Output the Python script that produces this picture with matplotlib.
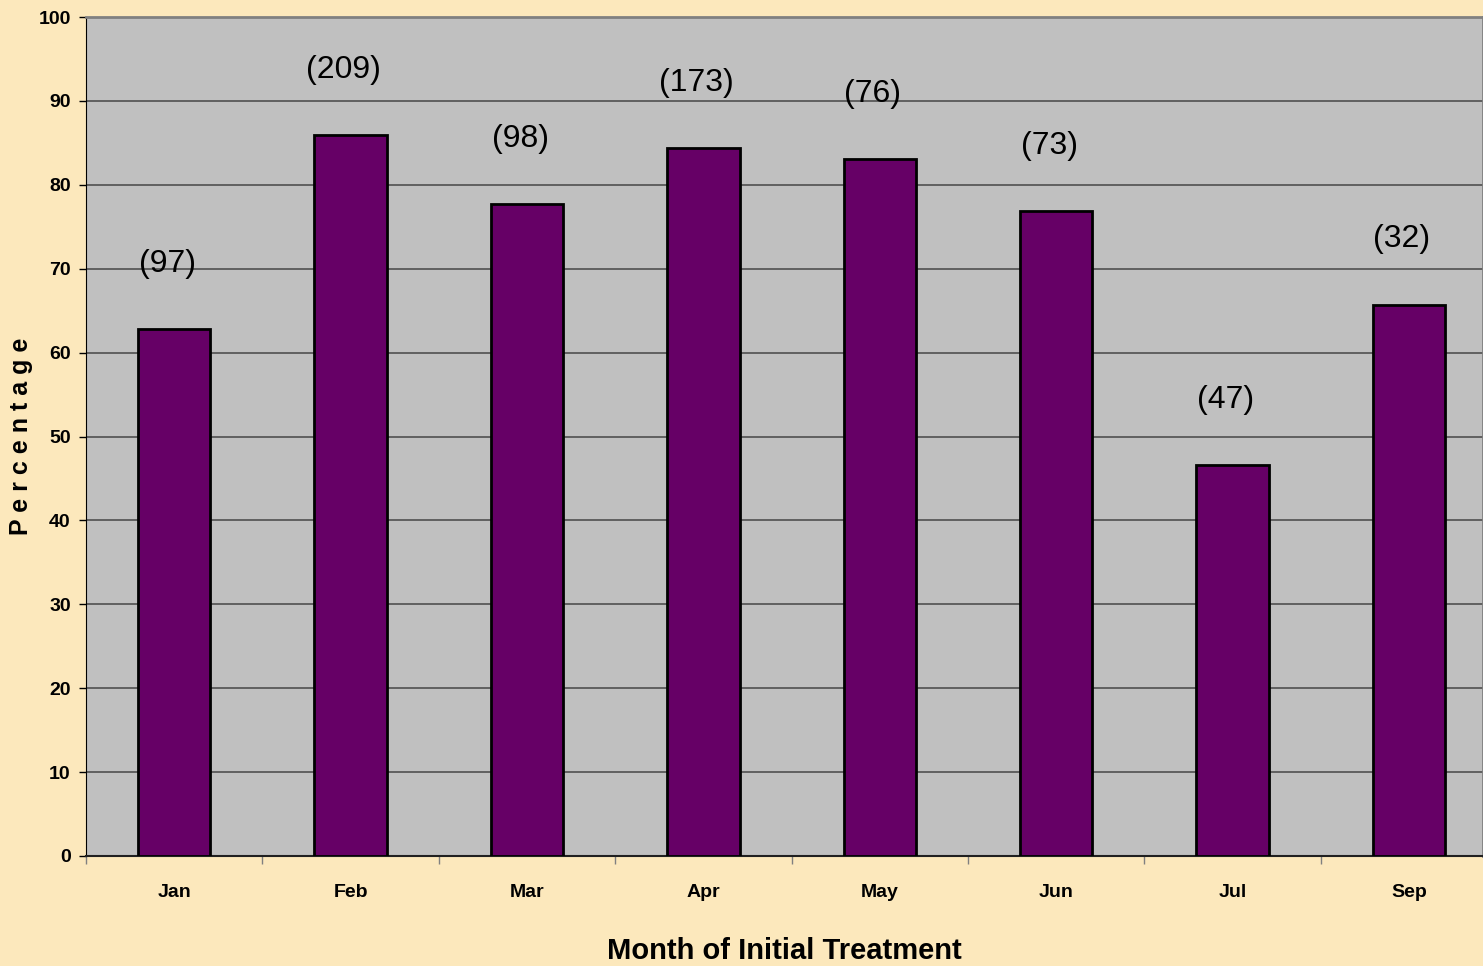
import numpy as np
import matplotlib.pyplot as plt

months = ['Jan', 'Feb', 'Mar', 'Apr', 'May', 'Jun', 'Jul', 'Sep']
percentages = [62.8, 85.9, 77.7, 84.4, 83.1, 76.9, 46.6, 65.7]
counts = [97, 209, 98, 173, 76, 73, 47, 32]

narrow = ['Liberation Sans Narrow', 'Liberation Sans', 'DejaVu Sans']
regular = ['Liberation Sans', 'DejaVu Sans']

fig = plt.figure(figsize=(14.83, 9.66), dpi=100, facecolor='#fce8bc')
ax = fig.add_axes([86 / 1483, 1 - 856 / 966, (1483 - 86) / 1483, (856 - 17) / 966])
ax.set_facecolor('#c0c0c0')

x = np.arange(len(months))
ax.bar(x, percentages, width=0.41, color='#660066', edgecolor='black',
       linewidth=2, zorder=3)

# n in parentheses above each bar
for xi, val, n in zip(x, percentages, counts):
    ax.annotate(f'({n})', (xi, val), xytext=(-5, 47), textcoords='offset points',
                ha='center', va='center', fontsize=23, family=regular)

ax.set_ylim(0, 100)
ax.set_xlim(-0.5, 7.42)
ax.set_yticks(np.arange(0, 101, 10))
ax.yaxis.grid(True, color='#505050', linewidth=1.2, zorder=1)
ax.set_axisbelow(True)

ax.set_xticks(x)
ax.set_xticklabels(months)
ax.set_xticks(np.arange(-0.5, 7.5, 1), minor=True)
ax.tick_params(axis='x', which='major', length=0, pad=20)
ax.tick_params(axis='x', which='minor', length=6, color='#808080', width=1)
ax.tick_params(axis='y', length=5, width=1, pad=6)
for lab in ax.get_xticklabels() + ax.get_yticklabels():
    lab.set_family(narrow)
    lab.set_fontweight('bold')
    lab.set_fontsize(14)

for side in ['top', 'right']:
    ax.spines[side].set_color('#808080')
    ax.spines[side].set_linewidth(2)
ax.spines['left'].set_color('black')
ax.spines['bottom'].set_color('#202020')
ax.spines['bottom'].set_linewidth(1.5)

ax.set_ylabel('P e r c e n t a g e', fontsize=18, fontweight='bold', family=regular,
              labelpad=4)
ax.set_xlabel('Month of Initial Treatment', fontsize=21, fontweight='bold',
              family=narrow, labelpad=26)

fig.savefig('out.png', dpi=100, facecolor=fig.get_facecolor())
